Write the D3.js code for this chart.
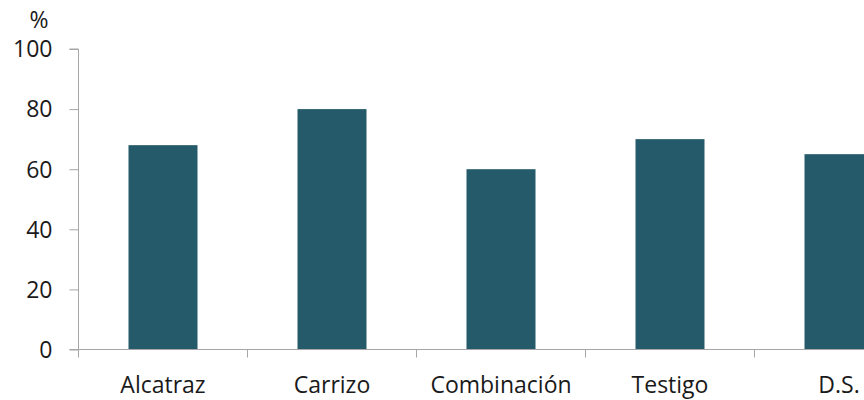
<!DOCTYPE html>
<html><head><meta charset="utf-8">
<script src="https://cdn.jsdelivr.net/npm/d3@7"></script>
<style>body{margin:0;background:#fff}svg{display:block}</style>
</head><body>
<svg id="c" width="864" height="400"></svg>
<script>
const categories = ["Alcatraz", "Carrizo", "Combinación", "Testigo", "D.S."];
const values = [68, 80, 60, 70, 65];
const yTicks = [0, 20, 40, 60, 80, 100];
const yLabel = "%";

const svg = d3.select("#c");
const x0 = 78.5, yBottom = 349.5, yTop = 49, step = 169;
const x = d3.scaleBand().domain(categories)
  .range([x0, x0 + step * categories.length])
  .paddingInner(100/169).paddingOuter(50/169);
const y = d3.scaleLinear().domain([0, 100]).range([yBottom, yTop]);
const font = "'Open Sans', Lato, sans-serif";
const fs = 23;
const txt = "#1a1a1a";
const axisColor = "#a6a6a6";

svg.selectAll("rect.bar").data(values).join("rect")
  .attr("class","bar")
  .attr("x",(d,i)=>x(categories[i]))
  .attr("width",x.bandwidth())
  .attr("y",d=>y(d))
  .attr("height",d=>y(0)-y(d))
  .attr("fill","#245a69");

// y axis
const ya = svg.append("g").attr("transform",`translate(${x0},0)`)
  .call(d3.axisLeft(y).tickValues(yTicks).tickSize(9).tickPadding(26 - 0));
ya.select(".domain").attr("stroke",axisColor).attr("d",`M-9,${yTop}H0V${yBottom}`);
ya.selectAll(".tick line").attr("stroke",axisColor);
ya.selectAll(".tick text").attr("font-family",font).attr("font-size",fs).attr("fill",txt)
  .attr("x",-26).attr("dy","0.34em");

// x axis
const xa = svg.append("g").attr("transform",`translate(0,${yBottom})`);
xa.append("line").attr("x1",x0-9).attr("x2",x0+step*categories.length).attr("stroke",axisColor);
const bounds = d3.range(categories.length+1).map(i=>x0+i*step);
xa.selectAll("line.t").data(bounds).join("line").attr("class","t")
  .attr("x1",d=>d).attr("x2",d=>d).attr("y1",0).attr("y2",8).attr("stroke",axisColor);
xa.selectAll("text").data(categories).join("text")
  .attr("x",d=>x(d)+x.bandwidth()/2).attr("y",43)
  .attr("text-anchor","middle").attr("font-family",font).attr("font-size",fs).attr("fill",txt)
  .text(d=>d);

svg.append("text").attr("x",39).attr("y",28).attr("text-anchor","middle")
  .attr("font-family",font).attr("font-size",fs).attr("fill",txt).text(yLabel);
</script>
</body></html>
